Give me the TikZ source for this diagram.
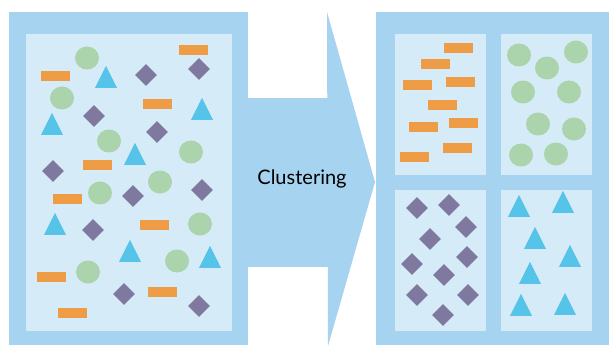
\documentclass[tikz,border=0pt]{standalone}
\usepackage{fontspec}
\setsansfont{Lato}
\usepackage{tikz}
\usetikzlibrary{shapes.geometric}
\definecolor{frameblue}{HTML}{A6D3EF}
\definecolor{panelblue}{HTML}{D5EBF8}
\definecolor{barorange}{HTML}{EE9C46}
\definecolor{dotgreen}{HTML}{ABD3AC}
\definecolor{gempurple}{HTML}{80799F}
\definecolor{tricyan}{HTML}{56C4E9}
\tikzset{OrangeBar/.style={
    rectangle,
    inner sep=0pt,
    minimum width=29pt,
    minimum height=10pt,
    fill=barorange
    }
}
\tikzset{GreenDot/.style={
    ellipse,
    inner sep=0pt,
    minimum width=24pt,
    minimum height=23pt,
    fill=dotgreen
    }
}
\tikzset{PurpleGem/.style={
    diamond,
    inner sep=0pt,
    minimum width=22pt,
    minimum height=22pt,
    fill=gempurple
    }
}
\tikzset{CyanTri/.style={
    isosceles triangle,
    isosceles triangle stretches,
    shape border rotate=90,
    inner sep=0pt,
    minimum width=22pt,
    minimum height=22pt,
    fill=tricyan
    }
}
\tikzset{Panel/.style={
    fill=panelblue
    }
}
\begin{document}
\begin{tikzpicture}[x=1pt, y=-1pt]
    \useasboundingbox (0,0) rectangle (609,347);

    % frames and arrow
    \fill[frameblue] (9,12) rectangle (248,345);
    \fill[frameblue] (247,98) rectangle (328,267);
    \fill[frameblue] (327,12) -- (375,182) -- (328,346) -- cycle;
    \fill[frameblue] (376,12) rectangle (609,345);

    \node (lbl) at (302,179) {\sffamily\fontsize{20}{22}\selectfont Clustering};

    % mixed panel
    \fill[Panel] (26,34) rectangle (232,331);

    \node (mo1) [OrangeBar] at (55,76) {};
    \node (mo2) [OrangeBar] at (193,50) {};
    \node (mo3) [OrangeBar] at (157,104) {};
    \node (mo4) [OrangeBar] at (97,165) {};
    \node (mo5) [OrangeBar] at (67,199) {};
    \node (mo6) [OrangeBar] at (154,225) {};
    \node (mo7) [OrangeBar] at (51,277) {};
    \node (mo8) [OrangeBar] at (162,292) {};
    \node (mo9) [OrangeBar] at (72,313) {};

    \node (mg1) [GreenDot] at (87,58) {};
    \node (mg2) [GreenDot] at (62,98) {};
    \node (mg3) [GreenDot] at (109,141) {};
    \node (mg4) [GreenDot] at (191,152) {};
    \node (mg5) [GreenDot] at (160,182) {};
    \node (mg6) [GreenDot] at (100,193) {};
    \node (mg7) [GreenDot] at (200,224) {};
    \node (mg8) [GreenDot] at (177,261) {};
    \node (mg9) [GreenDot] at (88,272) {};

    \node (md1) [PurpleGem] at (146,75) {};
    \node (md2) [PurpleGem] at (199,69) {};
    \node (md3) [PurpleGem] at (94,116) {};
    \node (md4) [PurpleGem] at (157,132) {};
    \node (md5) [PurpleGem] at (53,171) {};
    \node (md6) [PurpleGem] at (133,196) {};
    \node (md7) [PurpleGem] at (202,190) {};
    \node (md8) [PurpleGem] at (93,230) {};
    \node (md9) [PurpleGem] at (124,294) {};
    \node (md10) [PurpleGem] at (199,306) {};

    \node (mt1) [CyanTri] at (106,81) {};
    \node (mt2) [CyanTri] at (202,113) {};
    \node (mt3) [CyanTri] at (52,128) {};
    \node (mt4) [CyanTri] at (135,158) {};
    \node (mt5) [CyanTri] at (55,228) {};
    \node (mt6) [CyanTri] at (130,255) {};
    \node (mt7) [CyanTri] at (210,261) {};

    % sorted panels
    \fill[Panel] (395,34) rectangle (486,175);
    \fill[Panel] (501,34) rectangle (592,175);
    \fill[Panel] (395,190) rectangle (486,331);
    \fill[Panel] (501,190) rectangle (592,331);

    \node (so1) [OrangeBar] at (458,48) {};
    \node (so2) [OrangeBar] at (435,64) {};
    \node (so3) [OrangeBar] at (417,85) {};
    \node (so4) [OrangeBar] at (460,82) {};
    \node (so5) [OrangeBar] at (442,105) {};
    \node (so6) [OrangeBar] at (423,127) {};
    \node (so7) [OrangeBar] at (463,123) {};
    \node (so8) [OrangeBar] at (457,148) {};
    \node (so9) [OrangeBar] at (414,157) {};

    \node (sg1) [GreenDot] at (519,55) {};
    \node (sg2) [GreenDot] at (547,68) {};
    \node (sg3) [GreenDot] at (576,52) {};
    \node (sg4) [GreenDot] at (523,92) {};
    \node (sg5) [GreenDot] at (569,92) {};
    \node (sg6) [GreenDot] at (538,124) {};
    \node (sg7) [GreenDot] at (574,129) {};
    \node (sg8) [GreenDot] at (521,155) {};
    \node (sg9) [GreenDot] at (556,154) {};

    \node (sd1) [PurpleGem] at (417,208) {};
    \node (sd2) [PurpleGem] at (449,205) {};
    \node (sd3) [PurpleGem] at (466,227) {};
    \node (sd4) [PurpleGem] at (430,239) {};
    \node (sd5) [PurpleGem] at (412,264) {};
    \node (sd6) [PurpleGem] at (467,257) {};
    \node (sd7) [PurpleGem] at (444,275) {};
    \node (sd8) [PurpleGem] at (417,295) {};
    \node (sd9) [PurpleGem] at (468,295) {};
    \node (sd10) [PurpleGem] at (443,315) {};

    \node (st1) [CyanTri] at (519,210) {};
    \node (st2) [CyanTri] at (563,206) {};
    \node (st3) [CyanTri] at (535,242) {};
    \node (st4) [CyanTri] at (570,260) {};
    \node (st5) [CyanTri] at (530,277) {};
    \node (st6) [CyanTri] at (521,309) {};
    \node (st7) [CyanTri] at (565,308) {};

\end{tikzpicture}
\end{document}
